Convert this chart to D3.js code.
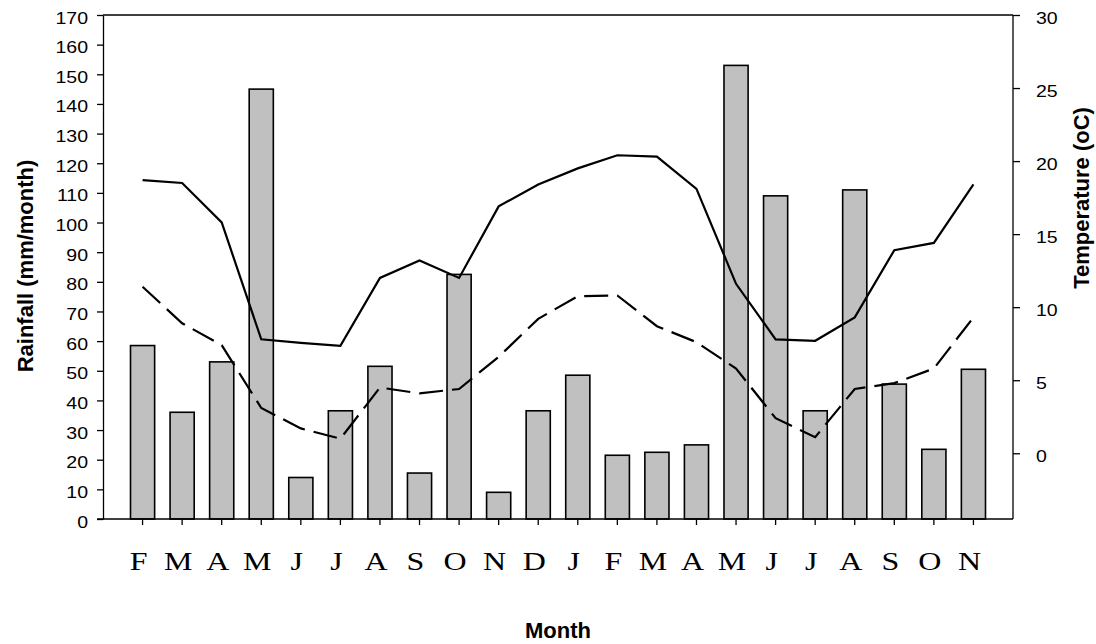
<!DOCTYPE html>
<html>
<head>
<meta charset="utf-8">
<script src="https://cdn.jsdelivr.net/npm/d3@7/dist/d3.min.js"></script>
<style>
  html, body { margin: 0; padding: 0; background: #fff; }
  svg { display: block; }
</style>
</head>
<body>
<svg id="chart" width="1096" height="644"></svg>
<script>
// ---- Data ----
const months = ["F","M","A","M","J","J","A","S","O","N","D","J","F","M","A","M","J","J","A","S","O","N"];
const rainfall = [58.5,36,53,145,14,36.5,51.5,15.5,82.5,9,36.5,48.5,21.5,22.5,25,153,109,36.5,111,45.5,23.5,50.5];
const tempMax = [18.7,18.5,15.8,7.8,7.55,7.35,12.0,13.2,12.0,16.9,18.4,19.5,20.4,20.3,18.1,11.6,7.8,7.7,9.3,13.9,14.4,18.4];
const tempMin = [11.4,8.9,7.4,3.1,1.7,1.0,4.5,4.1,4.4,6.6,9.2,10.75,10.8,8.7,7.6,5.8,2.4,1.1,4.4,4.8,5.8,9.3];
const rainTicks = d3.range(0, 171, 10);
const tempTicks = [0, 5, 10, 15, 20, 25, 30];
const leftTitle = "Rainfall (mm/month)";
const rightTitle = "Temperature (oC)";
const xTitle = "Month";

// ---- Layout ----
const L = 103, R = 1013, T = 15, B = 519;
const svg = d3.select("#chart");
const sans = "'Liberation Sans', Arial, sans-serif";
const serif = "'Liberation Serif', 'Times New Roman', serif";

const x = d3.scaleBand().domain(d3.range(months.length)).range([L, R])
  .paddingInner(0.39).paddingOuter(0.695);
const yL = d3.scaleLinear().domain([0, 170]).range([B, T]);
const yR = d3.scaleLinear().domain([-4.5, 30]).range([B, T]);
const cx = i => x(i) + x.bandwidth() / 2;

// Bars
svg.append("g").selectAll("rect").data(rainfall).join("rect")
  .attr("x", (d, i) => x(i))
  .attr("y", d => yL(d))
  .attr("width", x.bandwidth())
  .attr("height", d => yL(0) - yL(d))
  .attr("fill", "#c0c0c0")
  .attr("stroke", "#000")
  .attr("stroke-width", 1.6);

// Lines
const line = d3.line().x((d, i) => cx(i)).y(d => yR(d));
svg.append("path").datum(tempMax).attr("d", line)
  .attr("fill", "none").attr("stroke", "#000").attr("stroke-width", 2.2)
  .attr("stroke-linejoin", "miter");
svg.append("path").datum(tempMin).attr("d", line)
  .attr("fill", "none").attr("stroke", "#000").attr("stroke-width", 2.2)
  .attr("stroke-dasharray", "24,9");

// Plot frame (top)
svg.append("line").attr("x1", L).attr("x2", R).attr("y1", T).attr("y2", T)
  .attr("stroke", "#000").attr("stroke-width", 1.3);

function styleAxis(g) {
  g.select(".domain").attr("stroke", "#000").attr("stroke-width", 1.3);
  g.selectAll(".tick line").attr("stroke", "#000").attr("stroke-width", 1.3);
}

// Left axis
const gL = svg.append("g").attr("transform", `translate(${L},0)`)
  .call(d3.axisLeft(yL).tickValues(rainTicks).tickSize(6).tickSizeOuter(0));
styleAxis(gL);
gL.selectAll(".tick text")
  .attr("x", null).attr("dy", "0.5em")
  .attr("transform", "translate(-15,0) scale(1.22,1)")
  .attr("font-family", sans).attr("font-size", 16).attr("fill", "#000");

// Right axis
const gR = svg.append("g").attr("transform", `translate(${R},0)`)
  .call(d3.axisRight(yR).tickValues(tempTicks).tickSize(7).tickSizeOuter(0));
styleAxis(gR);
gR.select(".domain").attr("d", `M0,${T}V${B}`);
gR.selectAll(".tick text")
  .attr("x", null).attr("dy", "0.5em")
  .attr("transform", "translate(23,0) scale(1.22,1)")
  .attr("font-family", sans).attr("font-size", 16).attr("fill", "#000");

// Bottom axis
const gB = svg.append("g").attr("transform", `translate(0,${B})`)
  .call(d3.axisBottom(x).tickSize(6).tickSizeOuter(0).tickFormat(i => months[i]));
styleAxis(gB);
gB.select(".domain").attr("d", `M${L - 6},0H${R}`);
gB.selectAll(".tick text")
  .attr("y", null).attr("dy", null)
  .attr("transform", "translate(-4,51) scale(1.28,1)")
  .attr("font-family", serif).attr("font-size", 25).attr("fill", "#000");

// Titles
svg.append("text").text(leftTitle)
  .attr("transform", "translate(33,266) rotate(-90)")
  .attr("text-anchor", "middle")
  .attr("font-family", sans).attr("font-weight", "bold").attr("font-size", 22);
svg.append("text").text(rightTitle)
  .attr("transform", "translate(1089,198) rotate(-90)")
  .attr("text-anchor", "middle")
  .attr("font-family", sans).attr("font-weight", "bold").attr("font-size", 22);
svg.append("text").text(xTitle)
  .attr("x", 558).attr("y", 638)
  .attr("text-anchor", "middle")
  .attr("font-family", sans).attr("font-weight", "bold").attr("font-size", 22);
</script>
</body>
</html>
